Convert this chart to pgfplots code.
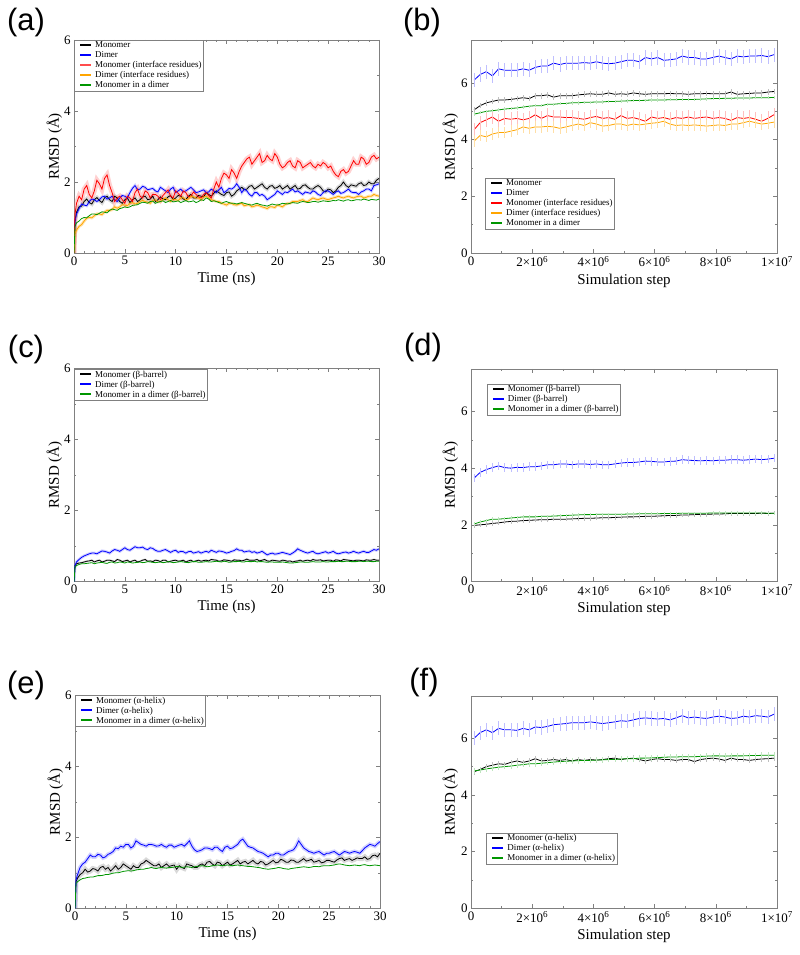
\documentclass[border=0pt]{standalone}
\usepackage{fontspec}
\setmainfont{Liberation Serif}
\newfontfamily\labfont{Liberation Sans}
\usepackage{pgfplots}
\usepackage{pgfplotstable}
\pgfplotsset{compat=1.18}
\definecolor{xgreen}{RGB}{0,150,0}
\definecolor{xorange}{RGB}{255,165,0}
\definecolor{xblue}{RGB}{0,0,255}
\definecolor{xred}{RGB}{255,0,0}
\newcommand{\leg}[2]{\hspace{4bp}\textcolor{#1}{\rule[2.2bp]{11bp}{1.6pt}}\hspace{4bp}#2}

\pgfplotstableread{
t mon dim mif dif mid
0 0 0 0 0 0
0.1 0.9 0.9 1.1 0.55 0.75
0.25 1.15 1.1 1.4 0.65 0.85
0.5 1.3 1.25 1.6 0.75 0.9
0.75 1.32 1.38 1.5 0.8 0.97
1 1.45 1.35 1.8 0.9 1.0
1.25 1.52 1.33 1.9 0.98 0.99
1.5 1.42 1.45 1.65 1.0 1.05
1.75 1.38 1.52 1.55 0.99 1.1
2 1.5 1.5 1.75 1.05 1.1
2.25 1.56 1.45 2.05 1.1 1.08
2.5 1.48 1.5 1.95 1.1 1.12
2.75 1.42 1.58 1.8 1.08 1.16
3 1.55 1.6 2.1 1.15 1.15
3.25 1.6 1.52 2.2 1.2 1.13
3.5 1.5 1.55 1.9 1.2 1.2
3.75 1.45 1.6 1.7 1.22 1.24
4 1.6 1.5 1.45 1.3 1.22
4.25 1.55 1.45 1.55 1.26 1.2
4.5 1.45 1.55 1.6 1.3 1.25
4.75 1.4 1.62 1.5 1.36 1.27
5 1.5 1.6 1.4 1.35 1.3
5.25 1.55 1.55 1.6 1.33 1.28
5.5 1.42 1.7 1.55 1.4 1.3
5.75 1.5 1.82 1.45 1.42 1.34
6 1.55 1.9 1.7 1.38 1.35
6.25 1.45 1.78 1.8 1.4 1.36
6.5 1.5 1.8 1.6 1.45 1.4
6.75 1.58 1.88 1.55 1.48 1.43
7 1.6 1.85 1.75 1.45 1.42
7.25 1.5 1.78 1.7 1.43 1.4
7.5 1.52 1.8 1.55 1.4 1.45
7.75 1.6 1.82 1.65 1.48 1.46
8 1.45 1.75 1.65 1.5 1.4
8.25 1.5 1.72 1.6 1.44 1.43
8.5 1.58 1.85 1.5 1.45 1.45
8.75 1.52 1.8 1.62 1.5 1.47
9 1.5 1.75 1.7 1.55 1.42
9.25 1.58 1.7 1.78 1.5 1.45
9.5 1.62 1.8 1.6 1.45 1.48
9.75 1.5 1.85 1.55 1.52 1.44
10 1.55 1.7 1.75 1.5 1.45
10.25 1.62 1.75 1.68 1.48 1.47
10.5 1.6 1.8 1.6 1.55 1.42
10.75 1.52 1.72 1.75 1.56 1.45
11 1.5 1.75 1.7 1.5 1.48
11.25 1.6 1.8 1.58 1.52 1.44
11.5 1.65 1.85 1.6 1.6 1.45
11.75 1.55 1.78 1.72 1.58 1.47
12 1.55 1.7 1.65 1.55 1.42
12.25 1.62 1.72 1.58 1.55 1.45
12.5 1.6 1.75 1.55 1.5 1.5
12.75 1.58 1.78 1.65 1.58 1.48
13 1.7 1.7 1.7 1.6 1.55
13.25 1.65 1.72 1.62 1.55 1.52
13.5 1.6 1.8 1.55 1.5 1.45
13.75 1.68 1.75 1.8 1.48 1.47
14 1.75 1.7 2.0 1.45 1.45
14.25 1.7 1.78 1.85 1.45 1.42
14.5 1.65 1.85 2.1 1.4 1.4
14.75 1.62 1.7 2.25 1.38 1.43
15 1.7 1.75 2.2 1.35 1.45
15.25 1.72 1.82 2.1 1.4 1.42
15.5 1.6 1.8 2.35 1.4 1.4
15.75 1.65 1.85 2.25 1.36 1.4
16 1.75 1.95 2.1 1.35 1.38
16.25 1.8 1.85 2.3 1.38 1.4
16.5 1.85 1.7 2.45 1.4 1.42
16.75 1.78 1.8 2.55 1.33 1.4
17 1.8 1.75 2.65 1.35 1.38
17.25 1.88 1.65 2.7 1.36 1.36
17.5 1.9 1.6 2.5 1.3 1.35
17.75 1.8 1.7 2.6 1.32 1.38
18 1.85 1.7 2.7 1.35 1.4
18.25 1.9 1.62 2.8 1.33 1.37
18.5 1.95 1.65 2.55 1.3 1.35
18.75 1.85 1.6 2.6 1.28 1.34
19 1.8 1.5 2.75 1.25 1.32
19.25 1.88 1.55 2.65 1.3 1.35
19.5 1.9 1.6 2.6 1.3 1.38
19.75 1.82 1.65 2.8 1.28 1.36
20 1.85 1.75 2.7 1.35 1.35
20.25 1.9 1.7 2.5 1.33 1.37
20.5 1.8 1.65 2.4 1.3 1.4
20.75 1.85 1.72 2.45 1.36 1.39
21 1.9 1.7 2.55 1.4 1.38
21.25 1.8 1.75 2.6 1.4 1.4
21.5 1.85 1.8 2.45 1.45 1.42
21.75 1.9 1.72 2.4 1.45 1.41
22 1.8 1.75 2.6 1.45 1.4
22.25 1.82 1.7 2.55 1.48 1.43
22.5 1.9 1.65 2.4 1.5 1.45
22.75 1.92 1.72 2.45 1.45 1.44
23 1.85 1.7 2.5 1.45 1.42
23.25 1.8 1.68 2.55 1.5 1.43
23.5 1.8 1.75 2.45 1.55 1.45
23.75 1.86 1.72 2.4 1.52 1.45
24 1.9 1.65 2.5 1.5 1.43
24.25 1.85 1.62 2.45 1.53 1.45
24.5 1.75 1.7 2.55 1.55 1.47
24.75 1.72 1.75 2.5 1.52 1.46
25 1.8 1.75 2.4 1.5 1.45
25.25 1.78 1.7 2.45 1.53 1.46
25.5 1.7 1.65 2.3 1.55 1.48
25.75 1.75 1.72 2.2 1.57 1.47
26 1.85 1.75 2.15 1.6 1.5
26.25 1.9 1.68 2.3 1.57 1.48
26.5 2.0 1.7 2.35 1.55 1.46
26.75 1.9 1.75 2.25 1.58 1.49
27 1.85 1.8 2.3 1.6 1.5
27.25 1.92 1.72 2.45 1.57 1.47
27.5 1.9 1.7 2.6 1.55 1.48
27.75 1.88 1.7 2.5 1.58 1.5
28 1.95 1.65 2.5 1.6 1.5
28.25 1.98 1.72 2.7 1.6 1.49
28.5 1.9 1.75 2.65 1.55 1.52
28.75 1.92 1.8 2.5 1.57 1.5
29 2.0 1.8 2.55 1.6 1.48
29.25 1.95 1.75 2.7 1.6 1.51
29.5 1.95 1.9 2.75 1.65 1.5
29.75 2.05 1.92 2.65 1.62 1.49
30 2.1 1.95 2.7 1.6 1.52
}\tA

\pgfplotstableread{
x mon dim mif dif mid
0.1 5.05 6.1 4.35 3.95 4.9
0.3 5.2 6.3 4.6 4.15 4.95
0.5 5.3 6.4 4.7 4.1 5.0
0.7 5.35 6.25 4.8 4.2 5.02
0.9 5.4 6.5 4.65 4.25 5.05
1.1 5.4 6.45 4.75 4.25 5.08
1.3 5.42 6.45 4.72 4.3 5.1
1.5 5.45 6.45 4.75 4.35 5.12
1.7 5.48 6.5 4.7 4.45 5.15
1.9 5.45 6.45 4.75 4.4 5.18
2.1 5.55 6.55 4.88 4.45 5.2
2.3 5.55 6.6 4.75 4.45 5.2
2.5 5.58 6.6 4.85 4.47 5.25
2.7 5.5 6.7 4.8 4.45 5.25
2.9 5.55 6.65 4.8 4.4 5.27
3.1 5.55 6.7 4.78 4.45 5.28
3.3 5.55 6.7 4.78 4.5 5.3
3.5 5.58 6.7 4.75 4.55 5.3
3.7 5.6 6.72 4.72 4.5 5.32
3.9 5.62 6.7 4.78 4.6 5.32
4.1 5.6 6.75 4.82 4.55 5.33
4.3 5.6 6.7 4.75 4.48 5.33
4.5 5.65 6.68 4.78 4.5 5.35
4.7 5.6 6.7 4.72 4.55 5.35
4.9 5.62 6.75 4.85 4.55 5.36
5.1 5.6 6.8 4.75 4.5 5.37
5.3 5.65 6.8 4.78 4.55 5.38
5.5 5.62 6.75 4.72 4.52 5.38
5.7 5.6 6.9 4.65 4.55 5.39
5.9 5.62 6.85 4.8 4.58 5.4
6.1 5.62 6.9 4.75 4.6 5.4
6.3 5.62 6.8 4.78 4.65 5.4
6.5 5.63 6.82 4.72 4.55 5.41
6.7 5.62 6.85 4.78 4.5 5.41
6.9 5.62 6.95 4.75 4.52 5.42
7.1 5.6 6.9 4.8 4.5 5.42
7.3 5.62 6.9 4.75 4.52 5.42
7.5 5.62 6.85 4.78 4.5 5.43
7.7 5.63 6.85 4.8 4.48 5.44
7.9 5.62 6.9 4.75 4.5 5.45
8.1 5.62 6.95 4.78 4.52 5.45
8.3 5.62 6.9 4.75 4.5 5.46
8.5 5.68 6.85 4.68 4.55 5.46
8.7 5.6 6.95 4.78 4.55 5.47
8.9 5.62 6.92 4.75 4.6 5.47
9.1 5.63 6.95 4.78 4.65 5.47
9.3 5.65 6.95 4.72 4.6 5.48
9.5 5.65 6.97 4.65 4.55 5.48
9.7 5.68 6.93 4.75 4.58 5.48
9.9 5.7 7.0 4.88 4.62 5.49
}\tB

\pgfplotstableread{
t mon dim mid
0 0 0 0
0.1 0.45 0.45 0.4
0.25 0.5 0.55 0.45
0.5 0.52 0.62 0.48
0.75 0.53 0.68 0.5
1 0.55 0.72 0.5
1.25 0.57 0.75 0.51
1.5 0.58 0.78 0.52
1.75 0.6 0.8 0.53
2 0.55 0.8 0.5
2.25 0.58 0.78 0.52
2.5 0.6 0.82 0.53
2.75 0.55 0.86 0.54
3 0.57 0.85 0.52
3.25 0.6 0.83 0.51
3.5 0.6 0.8 0.54
3.75 0.58 0.86 0.55
4 0.56 0.9 0.52
4.25 0.62 0.88 0.53
4.5 0.6 0.85 0.55
4.75 0.56 0.9 0.54
5 0.58 0.95 0.52
5.25 0.6 0.9 0.55
5.5 0.55 0.88 0.54
5.75 0.58 0.93 0.52
6 0.6 0.98 0.53
6.25 0.55 0.95 0.54
6.5 0.57 0.95 0.55
6.75 0.6 0.97 0.53
7 0.62 0.92 0.54
7.25 0.57 0.9 0.56
7.5 0.58 0.95 0.55
7.75 0.56 0.93 0.54
8 0.6 0.88 0.53
8.25 0.59 0.85 0.54
8.5 0.56 0.85 0.55
8.75 0.6 0.88 0.53
9 0.6 0.9 0.54
9.25 0.55 0.86 0.56
9.5 0.57 0.82 0.55
9.75 0.59 0.86 0.53
10 0.6 0.88 0.54
10.25 0.57 0.82 0.55
10.5 0.58 0.85 0.56
10.75 0.6 0.84 0.55
11 0.55 0.8 0.54
11.25 0.58 0.84 0.53
11.5 0.6 0.85 0.55
11.75 0.56 0.8 0.56
12 0.58 0.82 0.56
12.25 0.6 0.84 0.54
12.5 0.57 0.8 0.54
12.75 0.59 0.83 0.55
13 0.6 0.85 0.56
13.25 0.58 0.82 0.55
13.5 0.62 0.88 0.55
13.75 0.61 0.85 0.56
14 0.6 0.82 0.57
14.25 0.57 0.86 0.56
14.5 0.58 0.85 0.55
14.75 0.61 0.83 0.57
15 0.6 0.8 0.56
15.25 0.59 0.82 0.54
15.5 0.57 0.85 0.55
15.75 0.61 0.87 0.56
16 0.6 0.92 0.56
16.25 0.6 0.88 0.57
16.5 0.58 0.88 0.55
16.75 0.6 0.83 0.55
17 0.63 0.85 0.57
17.25 0.6 0.86 0.56
17.5 0.6 0.82 0.56
17.75 0.6 0.84 0.57
18 0.62 0.8 0.55
18.25 0.58 0.82 0.56
18.5 0.6 0.85 0.56
18.75 0.62 0.8 0.55
19 0.58 0.75 0.54
19.25 0.57 0.78 0.55
19.5 0.6 0.8 0.55
19.75 0.59 0.77 0.54
20 0.58 0.78 0.54
20.25 0.57 0.8 0.54
20.5 0.6 0.82 0.55
20.75 0.59 0.8 0.54
21 0.57 0.78 0.53
21.25 0.58 0.76 0.52
21.5 0.55 0.8 0.52
21.75 0.57 0.85 0.53
22 0.58 0.92 0.54
22.25 0.6 0.88 0.55
22.5 0.57 0.85 0.55
22.75 0.59 0.82 0.54
23 0.6 0.8 0.54
23.25 0.58 0.83 0.55
23.5 0.62 0.85 0.56
23.75 0.6 0.8 0.55
24 0.6 0.78 0.55
24.25 0.61 0.8 0.55
24.5 0.58 0.82 0.56
24.75 0.59 0.84 0.55
25 0.6 0.8 0.55
25.25 0.6 0.82 0.56
25.5 0.57 0.85 0.56
25.75 0.61 0.8 0.56
26 0.6 0.78 0.57
26.25 0.58 0.8 0.56
26.5 0.62 0.82 0.56
26.75 0.61 0.83 0.57
27 0.6 0.8 0.57
27.25 0.59 0.82 0.56
27.5 0.58 0.85 0.56
27.75 0.6 0.82 0.56
28 0.6 0.8 0.57
28.25 0.59 0.83 0.57
28.5 0.58 0.85 0.56
28.75 0.61 0.82 0.57
29 0.6 0.82 0.57
29.25 0.6 0.86 0.56
29.5 0.62 0.9 0.56
29.75 0.6 0.88 0.57
30 0.6 0.92 0.57
}\tC

\pgfplotstableread{
x mon dim mid
0.1 1.98 3.65 2.03
0.3 2.0 3.85 2.1
0.5 2.02 3.95 2.15
0.7 2.05 4.02 2.2
0.9 2.07 4.08 2.2
1.1 2.1 4.02 2.22
1.3 2.12 4.0 2.24
1.5 2.13 4.03 2.26
1.7 2.15 4.02 2.28
1.9 2.16 4.05 2.28
2.1 2.17 4.05 2.28
2.3 2.18 4.08 2.3
2.5 2.18 4.12 2.3
2.7 2.2 4.12 2.31
2.9 2.2 4.15 2.32
3.1 2.2 4.15 2.33
3.3 2.21 4.12 2.34
3.5 2.22 4.15 2.35
3.7 2.23 4.15 2.36
3.9 2.23 4.13 2.36
4.1 2.24 4.15 2.37
4.3 2.25 4.12 2.37
4.5 2.25 4.12 2.37
4.7 2.26 4.15 2.37
4.9 2.27 4.18 2.37
5.1 2.28 4.2 2.38
5.3 2.28 4.2 2.38
5.5 2.29 4.22 2.39
5.7 2.3 4.25 2.39
5.9 2.3 4.24 2.39
6.1 2.31 4.22 2.39
6.3 2.32 4.22 2.4
6.5 2.33 4.24 2.4
6.7 2.33 4.25 2.4
6.9 2.35 4.3 2.41
7.1 2.35 4.28 2.41
7.3 2.36 4.27 2.41
7.5 2.37 4.26 2.41
7.7 2.37 4.27 2.41
7.9 2.38 4.26 2.42
8.1 2.38 4.28 2.42
8.3 2.39 4.28 2.42
8.5 2.4 4.3 2.42
8.7 2.4 4.3 2.42
8.9 2.4 4.28 2.42
9.1 2.4 4.3 2.42
9.3 2.4 4.32 2.42
9.5 2.41 4.3 2.42
9.7 2.4 4.32 2.41
9.9 2.41 4.35 2.41
}\tD

\pgfplotstableread{
t mon dim mid
0 0 0 0
0.1 0.75 0.8 0.7
0.25 0.85 0.95 0.75
0.5 0.95 1.15 0.8
0.75 1.0 1.25 0.84
1 1.1 1.3 0.85
1.25 1.02 1.4 0.87
1.5 1.05 1.5 0.88
1.75 1.12 1.45 0.88
2 1.1 1.45 0.9
2.25 1.05 1.52 0.92
2.5 1.15 1.5 0.92
2.75 1.18 1.42 0.93
3 1.1 1.45 0.95
3.25 1.15 1.52 0.95
3.5 1.05 1.55 0.97
3.75 1.12 1.6 0.99
4 1.2 1.7 1.0
4.25 1.1 1.68 1.0
4.5 1.15 1.75 1.02
4.75 1.25 1.72 1.04
5 1.2 1.8 1.05
5.25 1.15 1.8 1.06
5.5 1.1 1.7 1.05
5.75 1.2 1.75 1.06
6 1.15 1.9 1.08
6.25 1.15 1.85 1.09
6.5 1.25 1.8 1.1
6.75 1.28 1.78 1.1
7 1.35 1.75 1.12
7.25 1.3 1.8 1.13
7.5 1.25 1.8 1.15
7.75 1.2 1.78 1.13
8 1.2 1.75 1.12
8.25 1.25 1.76 1.14
8.5 1.15 1.8 1.15
8.75 1.2 1.75 1.14
9 1.25 1.72 1.13
9.25 1.18 1.78 1.15
9.5 1.2 1.78 1.15
9.75 1.22 1.72 1.16
10 1.1 1.75 1.18
10.25 1.2 1.78 1.17
10.5 1.15 1.8 1.15
10.75 1.12 1.75 1.16
11 1.25 1.82 1.17
11.25 1.22 1.9 1.16
11.5 1.2 1.75 1.15
11.75 1.15 1.65 1.17
12 1.15 1.6 1.18
12.25 1.22 1.62 1.19
12.5 1.25 1.65 1.2
12.75 1.2 1.7 1.19
13 1.3 1.7 1.17
13.25 1.32 1.68 1.18
13.5 1.25 1.65 1.2
13.75 1.2 1.72 1.21
14 1.3 1.72 1.22
14.25 1.28 1.65 1.21
14.5 1.2 1.6 1.2
14.75 1.25 1.72 1.21
15 1.3 1.75 1.22
15.25 1.22 1.68 1.21
15.5 1.25 1.7 1.2
15.75 1.3 1.75 1.21
16 1.35 1.8 1.22
16.25 1.25 1.9 1.21
16.5 1.3 1.95 1.2
16.75 1.32 1.85 1.19
17 1.25 1.75 1.18
17.25 1.3 1.72 1.18
17.5 1.35 1.7 1.17
17.75 1.28 1.65 1.16
18 1.25 1.6 1.15
18.25 1.32 1.58 1.14
18.5 1.3 1.55 1.12
18.75 1.22 1.5 1.11
19 1.25 1.45 1.1
19.25 1.3 1.5 1.11
19.5 1.35 1.5 1.12
19.75 1.28 1.55 1.13
20 1.3 1.55 1.15
20.25 1.38 1.5 1.14
20.5 1.35 1.5 1.12
20.75 1.3 1.55 1.11
21 1.3 1.6 1.1
21.25 1.36 1.62 1.12
21.5 1.35 1.65 1.13
21.75 1.3 1.75 1.14
22 1.3 1.9 1.15
22.25 1.35 1.8 1.16
22.5 1.4 1.7 1.17
22.75 1.33 1.65 1.16
23 1.35 1.6 1.15
23.25 1.38 1.58 1.16
23.5 1.3 1.55 1.18
23.75 1.32 1.58 1.18
24 1.35 1.6 1.17
24.25 1.28 1.55 1.19
24.5 1.3 1.5 1.2
24.75 1.35 1.55 1.2
25 1.35 1.55 1.2
25.25 1.32 1.58 1.21
25.5 1.3 1.6 1.22
25.75 1.36 1.55 1.24
26 1.4 1.5 1.25
26.25 1.42 1.55 1.24
26.5 1.35 1.6 1.22
26.75 1.38 1.58 1.21
27 1.4 1.55 1.2
27.25 1.35 1.58 1.21
27.5 1.38 1.6 1.22
27.75 1.42 1.58 1.21
28 1.4 1.55 1.2
28.25 1.4 1.62 1.22
28.5 1.45 1.7 1.23
28.75 1.38 1.75 1.21
29 1.4 1.8 1.2
29.25 1.48 1.78 1.21
29.5 1.5 1.75 1.22
29.75 1.45 1.82 1.21
30 1.55 1.88 1.2
}\tE

\pgfplotstableread{
x mon dim mid
0.1 4.82 6.0 4.85
0.3 4.9 6.2 4.88
0.5 5.0 6.3 4.92
0.7 5.05 6.2 4.95
0.9 5.1 6.35 4.98
1.1 5.08 6.3 5.0
1.3 5.15 6.3 5.02
1.5 5.2 6.28 5.05
1.7 5.15 6.35 5.07
1.9 5.2 6.3 5.1
2.1 5.28 6.4 5.1
2.3 5.2 6.38 5.12
2.5 5.22 6.42 5.14
2.7 5.25 6.48 5.16
2.9 5.22 6.5 5.18
3.1 5.25 6.52 5.19
3.3 5.2 6.55 5.2
3.5 5.25 6.55 5.21
3.7 5.22 6.55 5.22
3.9 5.25 6.58 5.22
4.1 5.23 6.55 5.23
4.3 5.25 6.52 5.24
4.5 5.28 6.55 5.25
4.7 5.3 6.58 5.25
4.9 5.25 6.62 5.27
5.1 5.28 6.6 5.28
5.3 5.3 6.65 5.28
5.5 5.25 6.7 5.3
5.7 5.2 6.72 5.3
5.9 5.25 6.7 5.31
6.1 5.28 6.68 5.32
6.3 5.25 6.7 5.33
6.5 5.25 6.65 5.34
6.7 5.22 6.72 5.34
6.9 5.25 6.8 5.35
7.1 5.25 6.72 5.35
7.3 5.18 6.75 5.35
7.5 5.25 6.72 5.36
7.7 5.28 6.7 5.37
7.9 5.3 6.75 5.38
8.1 5.27 6.78 5.38
8.3 5.22 6.75 5.37
8.5 5.3 6.7 5.38
8.7 5.25 6.72 5.38
8.9 5.25 6.78 5.38
9.1 5.22 6.75 5.39
9.3 5.25 6.8 5.39
9.5 5.27 6.78 5.4
9.7 5.28 6.75 5.4
9.9 5.3 6.85 5.4
}\tF

\pgfplotsset{
  base/.style={scale only axis, anchor=south west,
    axis line style={black!50, line width=0.6pt},
    tick style={black!50, line width=0.5pt},
    tick align=inside, major tick length=4bp, minor tick length=2bp,
    /pgf/number format/assume math mode=true,
    tick label style={font=\fontsize{13}{13}\selectfont},
    label style={font=\fontsize{15}{15}\selectfont},
    ylabel={RMSD (Å)},
    ymin=0, minor y tick num=1,
    legend cell align=left,
    legend style={draw=black!50, line width=0.5pt, font=\fontsize{9}{9}\selectfont, anchor=north west, inner xsep=1bp, inner ysep=0.5bp, row sep=0pt, nodes={inner sep=0.8bp, text height=6.4bp, text depth=2bp}},
    legend image code/.code={},
    every axis plot/.append style={line width=0.8pt},
  },
  leftp/.style={base, width=305bp, height=213bp, xmin=0, xmax=30, ymax=6,
    xtick={0,5,...,30}, minor x tick num=4, ytick={0,2,4,6}, xlabel={Time (ns)}, ylabel shift=-5bp},
  rightp/.style={base, width=306bp, height=212.5bp, xmin=0, xmax=10, ymax=7.5,
    xtick={0,2,4,6,8,10}, minor x tick num=1, ytick={0,2,4,6}, xlabel={Simulation step}, ylabel shift=-4bp,
    xticklabels={0, 2×10\textsuperscript{6}, 4×10\textsuperscript{6}, 6×10\textsuperscript{6}, 8×10\textsuperscript{6}, 1×10\textsuperscript{7}}},
  band/.style={forget plot, line width=#1, opacity=0.3},
  eb/.style n args={2}{error bars/.cd, y dir=both, y fixed=#1, error mark=none, error bar style={#2, line width=0.45pt}},
}

\begin{document}
\begin{tikzpicture}
\path[use as bounding box] (0bp,0bp) rectangle (800bp,955bp);

% (a)
\begin{axis}[leftp, at={(74bp,702bp)}, legend style={at={(0,1)}}]
\addplot[band=4pt, gray] table[x=t,y=mon]{\tA};
\addplot[band=3pt, xblue!60] table[x=t,y=dim]{\tA};
\addplot[band=5pt, xred!60] table[x=t,y=mif]{\tA};
\addplot[band=3pt, xorange] table[x=t,y=dif]{\tA};
\addplot[black] table[x=t,y=mon]{\tA};
\addlegendentry{\leg{black}{Monomer}}
\addplot[xblue] table[x=t,y=dim]{\tA};
\addlegendentry{\leg{xblue}{Dimer}}
\addplot[xred] table[x=t,y=mif]{\tA};
\addlegendentry{\leg{xred!70}{Monomer (interface residues)}}
\addplot[xorange] table[x=t,y=dif]{\tA};
\addlegendentry{\leg{xorange}{Dimer (interface residues)}}
\addplot[xgreen] table[x=t,y=mid]{\tA};
\addlegendentry{\leg{xgreen}{Monomer in a dimer}}
\end{axis}

% (b)
\begin{axis}[rightp, at={(471bp,702bp)}, legend style={at={(0.046,0.354)}}]
\addplot[black, eb={0.1}{black!25}] table[x=x,y=mon]{\tB};
\addlegendentry{\leg{black}{Monomer}}
\addplot[xblue, eb={0.25}{xblue!25}] table[x=x,y=dim]{\tB};
\addlegendentry{\leg{xblue}{Dimer}}
\addplot[xred, eb={0.25}{xred!25}] table[x=x,y=mif]{\tB};
\addlegendentry{\leg{xred}{Monomer (interface residues)}}
\addplot[xorange, eb={0.2}{xorange!35}] table[x=x,y=dif]{\tB};
\addlegendentry{\leg{xorange}{Dimer (interface residues)}}
\addplot[xgreen, eb={0.06}{xgreen!25}] table[x=x,y=mid]{\tB};
\addlegendentry{\leg{xgreen}{Monomer in a dimer}}
\end{axis}

% (c)
\begin{axis}[leftp, at={(74bp,373.5bp)}, legend style={at={(0,1)}, yshift=-0.6bp}]
\addplot[band=3pt, xblue!60] table[x=t,y=dim]{\tC};
\addplot[band=2pt, gray] table[x=t,y=mon]{\tC};
\addplot[black] table[x=t,y=mon]{\tC};
\addlegendentry{\leg{black}{Monomer (β-barrel)}}
\addplot[xblue] table[x=t,y=dim]{\tC};
\addlegendentry{\leg{xblue}{Dimer (β-barrel)}}
\addplot[xgreen] table[x=t,y=mid]{\tC};
\addlegendentry{\leg{xgreen}{Monomer in a dimer (β-barrel)}}
\end{axis}

% (d)
\begin{axis}[rightp, at={(471bp,373.5bp)}, legend style={at={(0.052,0.93)}}]
\addplot[black, eb={0.08}{black!25}] table[x=x,y=mon]{\tD};
\addlegendentry{\leg{black}{Monomer (β-barrel)}}
\addplot[xblue, eb={0.15}{xblue!25}] table[x=x,y=dim]{\tD};
\addlegendentry{\leg{xblue}{Dimer (β-barrel)}}
\addplot[xgreen, eb={0.06}{xgreen!25}] table[x=x,y=mid]{\tD};
\addlegendentry{\leg{xgreen}{Monomer in a dimer (β-barrel)}}
\end{axis}

% (e)
\begin{axis}[leftp, at={(75bp,46.7bp)}, legend style={at={(0,1)}}]
\addplot[band=5pt, gray] table[x=t,y=mon]{\tE};
\addplot[band=4pt, xblue!60] table[x=t,y=dim]{\tE};
\addplot[black] table[x=t,y=mon]{\tE};
\addlegendentry{\leg{black}{Monomer (α-helix)}}
\addplot[xblue] table[x=t,y=dim]{\tE};
\addlegendentry{\leg{xblue}{Dimer (α-helix)}}
\addplot[xgreen] table[x=t,y=mid]{\tE};
\addlegendentry{\leg{xgreen}{Monomer in a dimer (α-helix)}}
\end{axis}

% (f)
\begin{axis}[rightp, at={(471bp,46.7bp)}, legend style={at={(0.05,0.357)}, yshift=-0.6bp}]
\addplot[black, eb={0.1}{black!25}] table[x=x,y=mon]{\tF};
\addlegendentry{\leg{black}{Monomer (α-helix)}}
\addplot[xblue, eb={0.25}{xblue!25}] table[x=x,y=dim]{\tF};
\addlegendentry{\leg{xblue}{Dimer (α-helix)}}
\addplot[xgreen, eb={0.1}{xgreen!25}] table[x=x,y=mid]{\tF};
\addlegendentry{\leg{xgreen}{Monomer in a dimer (α-helix)}}
\end{axis}

\node[font=\labfont\fontsize{31}{31}\selectfont] at (26bp,932bp) {(a)};
\node[font=\labfont\fontsize{31}{31}\selectfont] at (422bp,932bp) {(b)};
\node[font=\labfont\fontsize{31}{31}\selectfont] at (26bp,605bp) {(c)};
\node[font=\labfont\fontsize{31}{31}\selectfont] at (423bp,607bp) {(d)};
\node[font=\labfont\fontsize{31}{31}\selectfont] at (26bp,269bp) {(e)};
\node[font=\labfont\fontsize{31}{31}\selectfont] at (424bp,272bp) {(f)};
\end{tikzpicture}
\end{document}
